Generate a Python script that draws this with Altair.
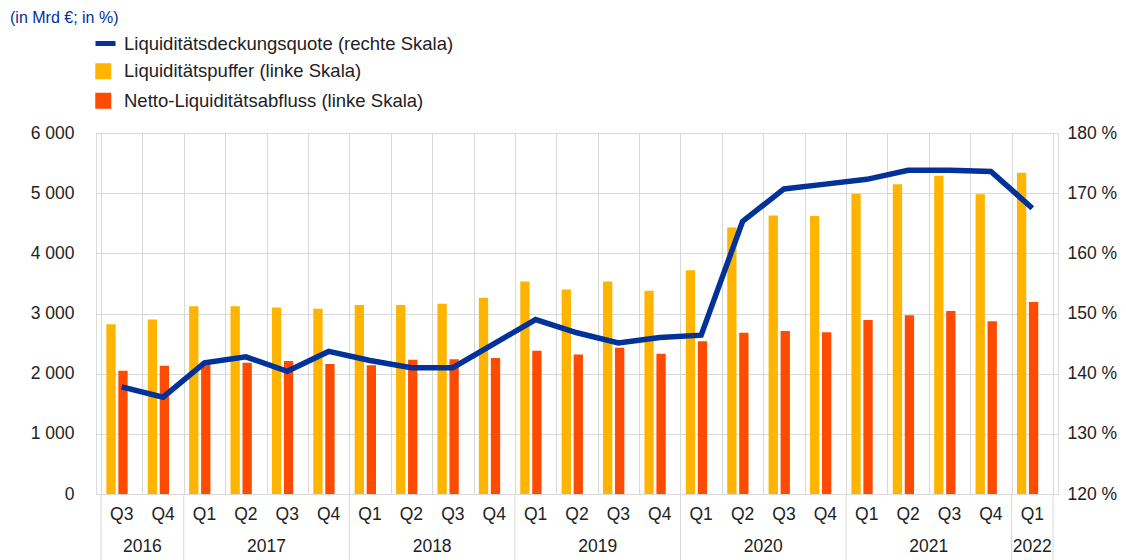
import altair as alt
import pandas as pd

# ---- data ----
quarters = ["Q3", "Q4",
            "Q1", "Q2", "Q3", "Q4",
            "Q1", "Q2", "Q3", "Q4",
            "Q1", "Q2", "Q3", "Q4",
            "Q1", "Q2", "Q3", "Q4",
            "Q1", "Q2", "Q3", "Q4",
            "Q1"]
years = ["2016", "2017", "2018", "2019", "2020", "2021", "2022"]
quarters_per_year = [2, 4, 4, 4, 4, 4, 1]

puffer = [2820, 2900, 3120, 3120, 3100, 3080, 3140, 3140, 3160, 3260,
          3530, 3400, 3530, 3380, 3720, 4430, 4630, 4620, 4990, 5150,
          5290, 4980, 5340]
abfluss = [2050, 2130, 2170, 2180, 2210, 2160, 2140, 2230, 2240, 2260,
           2380, 2320, 2430, 2330, 2540, 2680, 2710, 2690, 2890, 2970,
           3040, 2870, 3190]
lcr = [137.8, 136.1, 141.8, 142.8, 140.4, 143.7, 142.2, 141.0, 141.0, 145.0,
       149.0, 146.8, 145.1, 146.0, 146.4, 165.3, 170.7, 171.5, 172.3, 173.8,
       173.8, 173.6, 167.5]

name_lcr = "Liquiditätsdeckungsquote (rechte Skala)"
name_puffer = "Liquiditätspuffer (linke Skala)"
name_abfluss = "Netto-Liquiditätsabfluss (linke Skala)"
title_text = "(in Mrd €; in %)"

FONT = "Liberation Sans"
GRID = "#d9d9d9"
TXT = "#222222"
BLUE = "#003299"
FS_AX = 17.5
FS_LEG = 18.5

W, H = 962, 361
n = len(quarters)

df = pd.DataFrame({
    "idx": list(range(n)),
    "quarter": quarters,
    "puffer": puffer,
    "abfluss": abfluss,
    "lcr": lcr,
    "lname": [name_lcr] * n,
})
df[name_puffer] = df["puffer"]
df[name_abfluss] = df["abfluss"]

# year boundaries and centers from quarter counts
bounds = [0]
for c in quarters_per_year:
    bounds.append(bounds[-1] + c)
year_df = pd.DataFrame({
    "year": years,
    "start": bounds[:-1],
    "end": bounds[1:],
})
bound_df = pd.DataFrame({"b": bounds})

xscale = alt.Scale(domain=[0, n], nice=False, zero=False)
xaxis = alt.Axis(values=list(range(n + 1)), labels=False, ticks=False,
                 domain=False, grid=True, gridColor=GRID, title=None)

base = alt.Chart(df).transform_calculate(xc="datum.idx + 0.5")
X = alt.X("xc:Q", scale=xscale, axis=xaxis)

yleft = alt.Y("value:Q", scale=alt.Scale(domain=[0, 6000], nice=False),
              axis=alt.Axis(values=[0, 1000, 2000, 3000, 4000, 5000, 6000],
                            labelExpr="replace(format(datum.value, ','), ',', ' ')",
                            orient="left", grid=True, gridColor=GRID,
                            domain=False, ticks=False, labelPadding=22,
                            labelFontSize=FS_AX, labelFont=FONT, labelColor=TXT,
                            title=None))

color = alt.Color("series:N",
                  scale=alt.Scale(domain=[name_puffer, name_abfluss],
                                  range=["#FFB400", "#FF4B00"]),
                  legend=alt.Legend(orient="none", legendX=-2, legendY=-71,
                                    title=None, symbolType="square",
                                    symbolSize=256, symbolStrokeWidth=0,
                                    labelFontSize=FS_LEG, labelFont=FONT,
                                    labelColor=TXT, labelOffset=11.5,
                                    labelLimit=700,
                                    rowPadding=10.5, padding=0))

folded = base.transform_fold([name_puffer, name_abfluss], as_=["series", "value"])

bars_y = folded.transform_filter(alt.datum.series == name_puffer).mark_bar(
    width=9.3, xOffset=-10.7).encode(x=X, y=yleft, color=color)
bars_r = folded.transform_filter(alt.datum.series == name_abfluss).mark_bar(
    width=9.3, xOffset=1.3).encode(x=X, y=yleft, color=color)

bars = alt.layer(bars_y, bars_r)

line = base.mark_line(strokeWidth=5.5).encode(
    x=X,
    y=alt.Y("lcr:Q", scale=alt.Scale(domain=[120, 180], nice=False, zero=False),
            axis=alt.Axis(values=[120, 130, 140, 150, 160, 170, 180],
                          labelExpr="datum.value + ' %'", orient="right",
                          grid=False, domain=False, ticks=False,
                          labelPadding=9, labelFontSize=FS_AX, labelFont=FONT,
                          labelColor=TXT, title=None)),
    stroke=alt.Stroke("lname:N", scale=alt.Scale(domain=[name_lcr], range=[BLUE]),
                      legend=alt.Legend(orient="none", legendX=-3, legendY=-102,
                                        title=None, symbolType="stroke",
                                        symbolSize=400, symbolStrokeWidth=5,
                                        labelFontSize=FS_LEG, labelFont=FONT,
                                        labelColor=TXT, labelOffset=6,
                                        labelLimit=700, padding=0)),
)

qlabels = base.mark_text(fontSize=FS_AX, font=FONT, color=TXT, baseline="middle").encode(
    x=X, y=alt.value(H + 21), text="quarter:N")

ylabels = alt.Chart(year_df).transform_calculate(
    xc="(datum.start + datum.end) / 2").mark_text(
    fontSize=FS_AX, font=FONT, color=TXT, baseline="middle").encode(
    x=alt.X("xc:Q", scale=xscale, axis=xaxis), y=alt.value(H + 53), text="year:N")

seps = alt.Chart(bound_df).mark_rule(color=GRID, strokeWidth=1).encode(
    x=alt.X("b:Q", scale=xscale, axis=xaxis),
    y=alt.value(H), y2=alt.value(H + 70))

title = alt.Chart(pd.DataFrame({"t": [title_text]})).mark_text(
    align="left", baseline="middle", fontSize=16, font=FONT, color=BLUE).encode(
    x=alt.value(-86), y=alt.value(-115), text="t:N")

chart = alt.layer(bars, line, qlabels, ylabels, seps, title).resolve_scale(
    y="independent").properties(
    width=W, height=H,
    padding={"left": 88, "top": 125, "right": 60, "bottom": 66},
    autosize=alt.AutoSizeParams(type="none"),
).configure_view(stroke=GRID, strokeWidth=1).configure(background="white")

chart.save("out.html", embed_options={"renderer": "svg", "actions": False})
